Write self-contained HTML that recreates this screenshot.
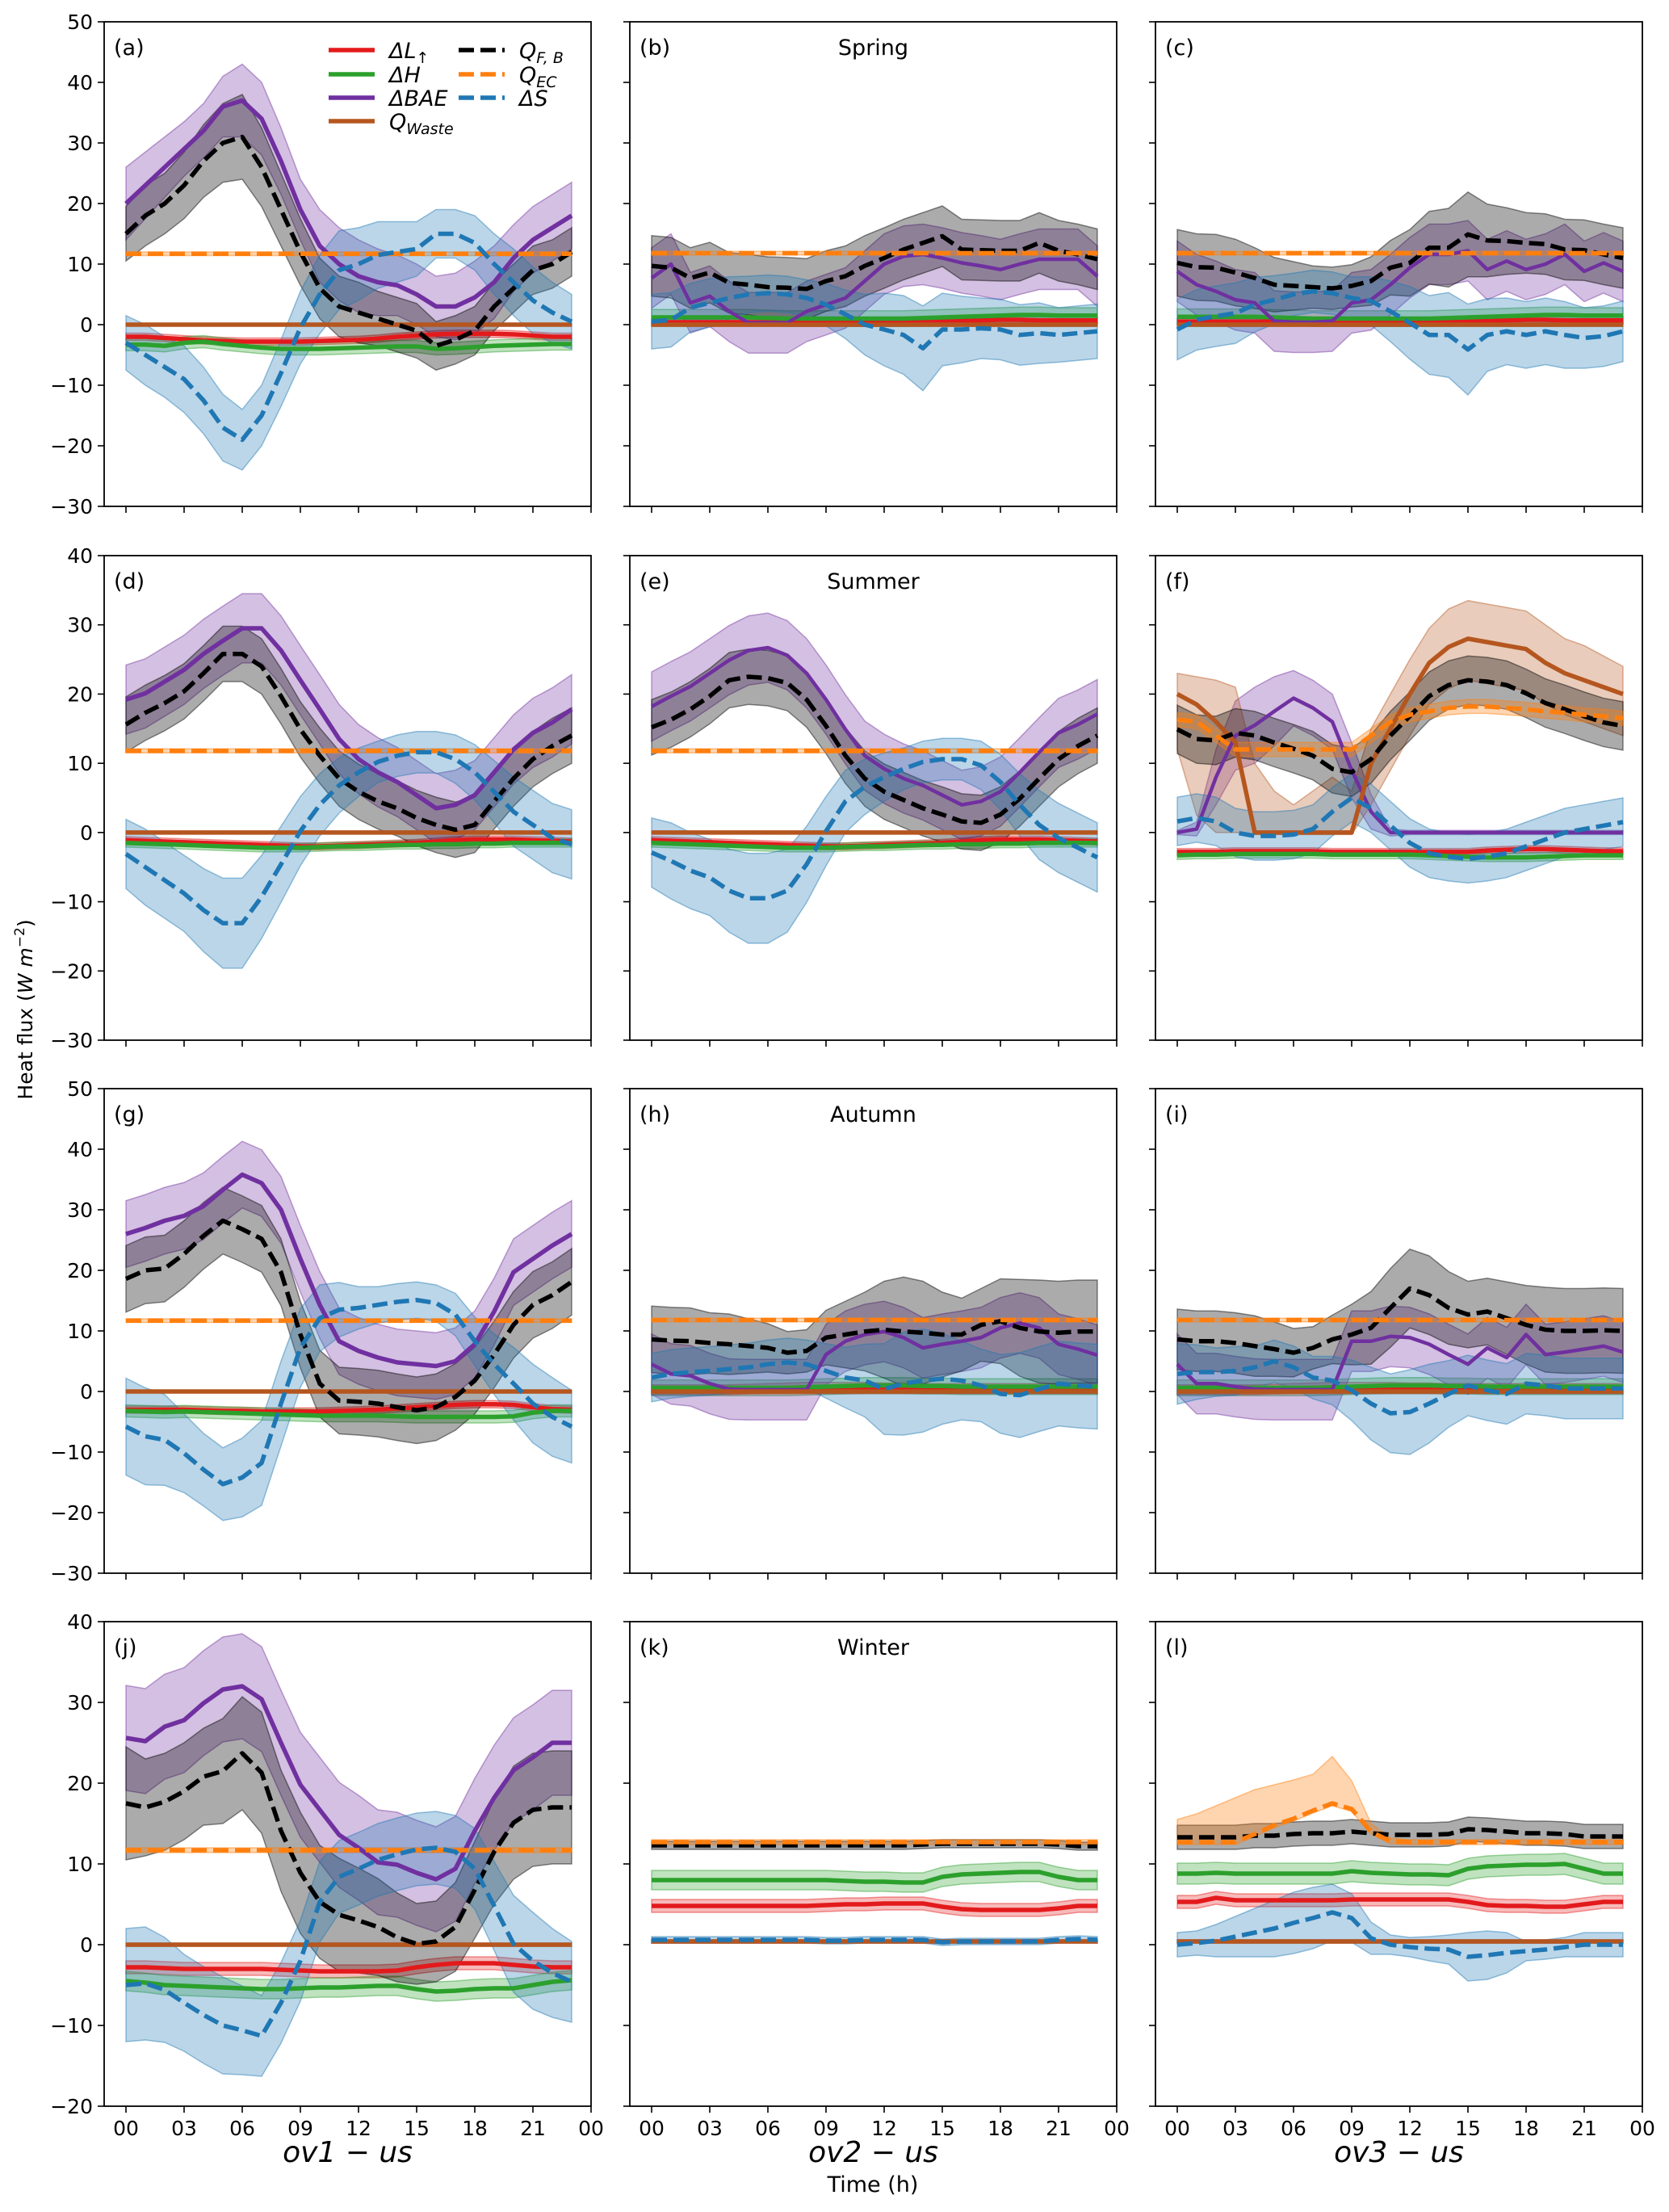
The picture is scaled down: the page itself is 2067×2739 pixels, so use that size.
<!DOCTYPE html>
<html><head><meta charset="utf-8"><style>
html,body{margin:0;padding:0;background:#fff;}
svg{display:block;font-family:"DejaVu Sans","Liberation Sans",sans-serif;}
</style></head><body>
<svg id="fig" width="2067" height="2739" viewBox="0 0 2067 2739" xmlns="http://www.w3.org/2000/svg"></svg>
<script>
const hours=[0,1,2,3,4,5,6,7,8,9,10,11,12,13,14,15,16,17,18,19,20,21,22,23];
const xTickLabels=["00","03","06","09","12","15","18","21","00"];
const xTickHours=[0,3,6,9,12,15,18,21,24];
const panelLabels=["(a)","(b)","(c)","(d)","(e)","(f)","(g)","(h)","(i)","(j)","(k)","(l)"];
const seasonTitles=["Spring","Summer","Autumn","Winter"];
const siteLabels=["ov1 − us","ov2 − us","ov3 − us"];
const rowYMin=[-30,-30,-30,-20];
const rowYMax=[50,40,50,40];

// (a)
const a_dL=[-2,-2,-2.2,-2.4,-2.6,-2.7,-2.8,-2.8,-2.8,-2.8,-2.7,-2.6,-2.5,-2.3,-2,-1.8,-1.6,-1.5,-1.5,-1.5,-1.6,-1.8,-2,-2];
const a_dH=[-3.3,-3.3,-3.5,-3,-2.8,-3.2,-3.5,-3.8,-4,-4,-4,-3.9,-3.8,-3.7,-3.6,-3.6,-4,-3.9,-3.7,-3.5,-3.4,-3.3,-3.2,-3.2];
const a_bae=[20,23,26,29,32,36,37,34,27,19,13,10,8,7,6.5,5,3,3,4.5,7,11,14,16,18];
const a_bae_sp=[6,5.5,5,4.5,4.5,5,6,6,5.5,5,6,6,6,5.5,5,5,5,5.5,6,6,5.5,5.5,5.5,5.5];
const a_qw=[0,0,0,0,0,0,0,0,0,0,0,0,0,0,0,0,0,0,0,0,0,0,0,0];
const a_qfb=[15,18,20,23,27,30,31,26,19,12,6,3,2,1,0,-1,-3.5,-2.5,-1,3,6,9,10,12];
const a_qfb_sp=[4.5,5,5,5.5,6,6.5,7,6.5,6,5.5,5,5,5,4.5,4.5,4.5,4,4,4,4,4,4,4,4];
const a_qec=[11.7,11.7,11.7,11.7,11.7,11.7,11.7,11.7,11.7,11.7,11.7,11.7,11.7,11.7,11.7,11.7,11.7,11.7,11.7,11.7,11.7,11.7,11.7,11.7];
const a_ds=[-3,-5,-7,-9,-12.5,-17,-19,-15,-8,-0.5,5,9,10,11.5,12,12.5,15,15,13.5,10,7,4,2,0.5];
const a_ds_sp=[4.5,5,5,5.5,5.5,5.5,5,5,5.5,6,6.5,6.5,6,5.5,5,4.5,4,4,4.5,5,5.5,5.5,5,4.5];
// (b)
const b_dL=[0.4,0.4,0.4,0.4,0.4,0.4,0.4,0.4,0.4,0.4,0.4,0.4,0.4,0.4,0.5,0.5,0.6,0.7,0.8,0.8,0.7,0.7,0.7,0.7];
const b_dH=[1.2,1.2,1.2,1.2,1.2,1.2,1.1,1.0,1.0,1.0,1.0,1.0,1.0,1.0,1.1,1.2,1.3,1.4,1.5,1.6,1.6,1.5,1.5,1.5];
const b_bae=[7.7,10,3.6,4.7,2.2,0.3,0.3,0.3,2.2,3.3,4.4,7.2,10,11.3,11.6,11,10.2,9.7,9.1,10,10.8,10.8,10.8,8];
const b_qfb=[9.7,9.4,7.7,8.6,6.9,6.6,6.2,6.1,5.9,7.2,8,9.7,11,12.4,13.5,14.6,12.4,12.3,12.2,12.2,13.5,12.2,11.6,10.8];
const b_qec=[11.8,11.8,11.8,11.8,11.8,11.8,11.8,11.8,11.8,11.8,11.8,11.8,11.8,11.8,11.8,11.8,11.8,11.8,11.8,11.8,11.8,11.8,11.8,11.8];
const b_ds=[0.5,0.8,2.8,3.6,4.4,5,5.2,5,4.4,3.3,1.7,0,-0.8,-1.7,-3.9,-0.8,-0.8,-0.6,-0.8,-1.7,-1.4,-1.7,-1.4,-1.1];
const b_ds_sp=[4.5,4.5,4,4,3.5,3,3,3,3,3.5,4,5,6,6.5,7,6,5.5,5,5,5,5,4.5,4.5,4.5];
// (c)
const c_dL=[0.5,0.5,0.5,0.5,0.5,0.5,0.5,0.5,0.5,0.5,0.5,0.5,0.5,0.5,0.5,0.6,0.6,0.7,0.8,0.8,0.7,0.7,0.7,0.7];
const c_dH=[1.3,1.3,1.3,1.3,1.3,1.2,1.1,1.0,1.0,1.0,1.0,1.0,1.0,1.0,1.1,1.2,1.3,1.4,1.5,1.6,1.6,1.5,1.5,1.5];
const c_bae=[8.8,6.6,5.5,4.1,3.6,0.6,0.4,0.4,0.6,3.6,4.1,6.6,9.4,11.6,11.6,12.2,9.1,10.5,9.1,10,11.6,8.8,10.2,8.8];
const c_qfb=[10.2,9.5,9.4,8.6,7.7,6.6,6.4,6.2,6,6.4,7.2,9.4,10.2,12.7,12.7,14.9,13.9,13.8,13.5,13.3,12.4,12.3,11.6,11];
const c_qfb_sp=[5.5,5.5,5.5,5.5,5,4.5,4,3.5,3.5,3.5,4,4.5,5.5,6,6.5,7,6,5.5,5,5,5,5,5,5];
const c_ds=[-0.8,0.8,1.4,1.9,3.3,4.1,5,5.5,5.2,4.4,3.9,2.2,0.3,-1.7,-1.7,-4.1,-1.7,-1.1,-1.7,-1.1,-1.7,-2.2,-1.9,-1.1];
const c_ds_sp=[5,5,5,5,4.5,4,3.5,3.5,3.5,3.5,4,5,6,6.5,7,7.5,6,5.5,5.5,5.5,5.5,5,5,5];
// (d)
const d_dL=[-1.1,-1.2,-1.3,-1.4,-1.5,-1.6,-1.7,-1.8,-1.9,-2,-2,-1.9,-1.8,-1.7,-1.6,-1.5,-1.3,-1.1,-1,-1,-1,-1.1,-1.2,-1.3];
const d_dH=[-1.5,-1.6,-1.7,-1.8,-1.9,-2,-2.1,-2.2,-2.2,-2.2,-2.1,-2,-2,-1.9,-1.8,-1.8,-1.7,-1.7,-1.6,-1.6,-1.5,-1.5,-1.5,-1.5];
const d_bae=[19.2,20.1,21.8,23.5,25.8,27.7,29.5,29.5,26.3,22,17.8,13.5,10.6,8.7,7.3,5.4,3.5,4,5.4,8.7,12,14.4,15.9,17.8];
const d_qfb=[15.6,17.3,18.7,20.4,23,25.8,25.8,24,19.7,14.9,11.1,7.8,5.9,4.5,3.5,2.1,1.1,0.4,1.1,4.5,7.8,10.6,12.5,14];
const d_ds=[-3.1,-5,-6.9,-8.8,-11.2,-13.1,-13.1,-9.3,-4.6,0.2,4,6.8,8.7,10.2,11.1,11.6,11.6,10.6,8.7,5.9,3,1.1,-0.8,-1.7];
const d_ds_sp=[5,5.5,5.5,5.5,6,6.5,6.5,6,5.5,5,4.5,4,3.5,3,3,3,3,3.5,4,4.5,5,5,5,5];
// (e)
const e_bae=[18.2,19.7,21.1,23,24.9,26.3,26.7,25.6,23,19.2,14.9,11.1,9.2,7.8,6.8,5.4,4,4.5,5.9,8.7,11.6,14.4,15.6,17.1];
const e_qfb=[15.2,16.3,17.8,19.7,22,22.5,22.3,21.6,19.2,15.4,11.1,7.8,5.9,4.7,3.5,2.6,1.6,1.4,2.6,4.9,7.8,10.6,12.5,14];
const e_ds=[-2.9,-4.1,-5.5,-6.5,-8.4,-9.5,-9.5,-8.4,-4.6,0.2,4.5,6.6,8,9.2,10.2,10.6,10.6,9.7,7.3,4,1.1,-0.8,-2.2,-3.6];
// (f)
const f_dL=[-2.8,-2.8,-2.8,-2.7,-2.7,-2.7,-2.7,-2.7,-2.8,-2.8,-2.8,-2.8,-2.8,-2.8,-2.8,-2.8,-2.6,-2.5,-2.4,-2.4,-2.5,-2.6,-2.7,-2.7];
const f_dH=[-3.3,-3.2,-3.2,-3.1,-3.1,-3.1,-3.1,-3.1,-3.2,-3.2,-3.2,-3.2,-3.2,-3.3,-3.4,-3.5,-3.6,-3.6,-3.6,-3.5,-3.4,-3.3,-3.3,-3.3];
const f_bae=[0,0.5,8,14,15.5,17.5,19.4,18,16,9,3,0,0,0,0,0,0,0,0,0,0,0,0,0];
const f_bae_sp=[0.3,1,4,5,5.5,5,4,4,4,4,2.5,0.5,0.3,0.3,0.3,0.3,0.3,0.3,0.3,0.3,0.3,0.3,0.3,0.3];
const f_qw=[20,18.5,16,13,0,0,0,0,0,0,10,15,20,24.5,26.8,28,27.5,27,26.5,24.5,23,22,21,20];
const f_qw_up=[3,4,6,8,10,6,4,6,8,6,5,5,5,5,5.5,5.5,5.5,5.5,5.5,5.5,5,5,4.5,4];
const f_qw_dn=[8,16,16,13,0.3,0.3,0.3,0.3,0.3,0.3,6,6,6,6,6,6,6,6,6,6,6,6,6,6];
const f_qfb=[14.9,13.5,13.3,14.4,14,13,12.1,11.1,9.2,8.7,10.6,14,16.8,19.7,21.3,22,21.8,21.3,20.1,18.7,17.8,16.8,15.9,15.4];
const f_qec=[16.3,16,14,12,12,12,12,12,12,12,14,16,17,17.5,18,18.2,18.2,18,17.8,17.5,17.3,17,16.8,16.5];
const f_ds=[1.6,2.1,1.6,0,-0.5,-0.5,-0.3,0.5,3,5,3.5,1,-1.5,-3,-3.5,-3.8,-3.5,-3,-2,-1,0,0.5,1,1.5];
// (g)
const g_dL=[-3,-3,-3,-3,-3.1,-3.2,-3.2,-3.3,-3.3,-3.3,-3.3,-3.2,-3.1,-3,-2.8,-2.6,-2.4,-2.2,-2.1,-2.1,-2.2,-2.6,-2.9,-3];
const g_dH=[-3.2,-3.3,-3.4,-3.3,-3.4,-3.5,-3.6,-3.7,-3.8,-3.9,-4,-4,-4,-4,-4.1,-4.2,-4.2,-4.2,-4.2,-4.2,-4.1,-3.5,-3.2,-3.2];
const g_bae=[26,27,28.2,29,30.6,33.3,35.8,34.4,30,21.9,14.3,8.3,6.7,5.6,4.8,4.5,4.2,5,7.8,13.2,19.7,21.9,24.1,26];
const g_qfb=[18.6,20,20.3,22.7,25.7,28.2,26.8,25.2,19.7,9.4,1.3,-1.5,-1.7,-2,-2.6,-3.1,-2.6,-0.9,1.8,6.1,11,14.3,15.9,18.1];
const g_ds=[-5.8,-7.4,-8,-10.2,-12.9,-15.3,-14.2,-11.8,-2,7.2,12.1,13.5,13.8,14.3,14.8,15.1,14.6,12.7,8.3,4.5,1.3,-2,-4.2,-5.8];
const g_ds_sp=[8,8,7.5,6.5,6,6,6.5,7,7,6.5,5.5,4.5,3.5,3,3,3,3,3.5,4,5,6,6.5,6.5,6];
// (h)
const h_dL=[0.3,0.3,0.3,0.3,0.3,0.4,0.5,0.6,0.7,0.7,0.7,0.7,0.6,0.6,0.5,0.5,0.5,0.5,0.5,0.5,0.5,0.5,0.5,0.5];
const h_dH=[0.6,0.6,0.6,0.6,0.6,0.6,0.6,0.6,0.7,0.8,0.9,1,1,1,0.9,0.9,0.8,0.8,0.8,0.8,0.8,0.8,0.8,0.8];
const h_bae=[4.5,2.9,2.6,1.3,0.4,0.3,0.3,0.3,0.3,6.1,8.3,9.4,9.9,8.9,7.2,7.8,8.3,8.9,10.5,11.3,10.5,7.8,7,6];
const h_qfb=[8.6,8.4,8.3,8,7.8,7.5,7.2,6.4,6.7,8.9,9.4,9.9,10.2,9.9,9.7,9.4,9.4,11,11.6,10.5,9.9,9.7,9.9,9.9];
const h_qfb_sp=[5.5,5.5,5.5,5,5,4.5,4,3.5,3.5,4.5,5.5,6.5,8,9,8.5,7,6,6,7,8,8.5,8.5,8.5,8.5];
const h_ds=[2.3,2.9,3.2,3.4,3.7,4,4.5,4.8,4.5,3.4,2.3,1.8,0.4,1.3,1.8,2.1,1.8,1,-0.4,-0.6,0.4,1.3,1,0.8];
const h_ds_sp=[4,4,4,4,4,4,4,4,4,4.5,5,6,7.5,8.5,8.5,7.5,6.5,6,6.5,7,7,7,7,7];
// (i)
const i_bae=[4.5,1.3,1.3,0.8,0.4,0.3,0.3,0.3,0.3,8.3,8.3,9.1,8.9,7.8,6.1,4.5,7.2,5.6,9.4,6.1,6.5,7,7.5,6.5];
const i_qfb=[8.6,8.3,8.3,8,7.5,7,6.4,7.2,8.6,9.4,10.5,13.8,17,15.9,13.8,12.7,13.2,12.1,11,10.2,10,10,10.1,10];
const i_qfb_sp=[5,5,5,5,5,4.5,4,3.5,4,5,6,6.5,6.5,6.5,6,5.5,5.5,6,6.5,7,7,7,7,7];
const i_ds=[2.9,3.2,3.2,3.4,4,5,4,2.3,1.8,0.2,-2,-3.6,-3.4,-2,-0.4,1,0.2,-0.4,1.3,1,0.5,0.5,0.5,0.5];
const i_ds_sp=[5,4.5,4,4,3.5,3.5,3.5,3.5,4,5,6,6.5,7,6.5,5.5,5,5,5,5,5,5,5,5,5];
// (j)
const j_dL=[-2.8,-2.8,-2.9,-3,-3,-3,-3,-3,-3.1,-3.2,-3.3,-3.3,-3.3,-3.3,-3.2,-2.8,-2.5,-2.3,-2.3,-2.3,-2.5,-2.7,-2.8,-2.8];
const j_dH=[-4.5,-4.7,-5,-5.1,-5.2,-5.3,-5.4,-5.5,-5.5,-5.4,-5.3,-5.3,-5.2,-5.1,-5.1,-5.5,-5.8,-5.7,-5.5,-5.4,-5.4,-5,-4.6,-4.4];
const j_bae=[25.6,25.2,27,27.8,29.9,31.6,32,30.4,25,19.8,16.7,13.6,12,10.2,9.9,8.9,8.1,9.4,14.1,18.2,21.6,23.2,25,25];
const j_qfb=[17.5,17,17.7,19,20.8,21.5,23.7,21.3,14.1,8.9,5.3,3.7,3,2.2,0.9,0.1,0.4,2.2,6.8,11.5,15.1,16.7,17,17];
const j_qfb_sp=[7,6,6,6,6,6.5,7,7.5,7.5,7.5,7,7,6.5,6,5.5,5,5,5.5,6,6.5,7,7,7,7];
const j_ds=[-5,-4.8,-5.6,-7.2,-8.7,-10,-10.6,-11.3,-7.2,-2,5.3,8.4,9.4,10.5,11.2,11.8,12,11.5,9.4,4.8,0.1,-2,-3.5,-4.6];
const j_ds_sp=[7,7,6.5,6,6,6,5.5,5,5,5,5,4.5,4.5,4.5,4.5,4.5,4.5,4.5,5,5.5,6,6,5.5,5];
// (k)
const k_dL=[4.8,4.8,4.8,4.8,4.8,4.8,4.8,4.8,4.8,4.9,5,5,5.1,5.1,5.1,4.7,4.4,4.3,4.3,4.3,4.3,4.5,4.8,4.8];
const k_dH=[8,8,8,8,8,8,8,8,8,8,7.9,7.8,7.8,7.7,7.7,8.4,8.7,8.8,8.9,9,9,8.4,8,8];
const k_qw=[0.4,0.4,0.4,0.4,0.4,0.4,0.4,0.4,0.4,0.4,0.4,0.4,0.4,0.4,0.4,0.4,0.4,0.4,0.4,0.4,0.4,0.4,0.4,0.4];
const k_qfb=[12.3,12.3,12.3,12.3,12.3,12.3,12.3,12.3,12.3,12.3,12.3,12.3,12.3,12.3,12.4,12.5,12.5,12.5,12.5,12.5,12.5,12.4,12.2,12.2];
const k_qec=[12.7,12.7,12.7,12.7,12.7,12.7,12.7,12.7,12.7,12.7,12.7,12.7,12.7,12.7,12.7,12.7,12.7,12.7,12.7,12.7,12.7,12.7,12.7,12.7];
const k_ds=[0.6,0.6,0.6,0.6,0.6,0.6,0.6,0.6,0.6,0.5,0.5,0.6,0.6,0.6,0.6,0.3,0.4,0.4,0.4,0.4,0.4,0.6,0.7,0.6];
// (l)
const l_dL=[5.3,5.3,5.8,5.5,5.5,5.5,5.5,5.5,5.5,5.6,5.6,5.6,5.6,5.6,5.6,5.3,4.9,4.8,4.8,4.7,4.7,5,5.3,5.3];
const l_dH=[8.8,8.8,8.9,8.8,8.8,8.8,8.8,8.8,8.8,9.1,8.9,8.8,8.7,8.7,8.6,9.4,9.7,9.8,9.9,9.9,10,9.4,8.8,8.8];
const l_qw=[0.4,0.4,0.4,0.4,0.4,0.4,0.4,0.4,0.4,0.4,0.4,0.4,0.4,0.4,0.4,0.4,0.4,0.4,0.4,0.4,0.4,0.4,0.4,0.4];
const l_qfb=[13.3,13.3,13.3,13.3,13.5,13.5,13.7,13.8,13.8,14,13.8,13.6,13.6,13.6,13.7,14.3,14.2,14,13.8,13.8,13.7,13.4,13.4,13.4];
const l_qec=[12.7,12.7,12.7,12.7,13.7,14.8,15.6,16.6,17.5,16.8,14,12.8,12.7,12.7,12.7,12.7,12.7,12.7,12.7,12.7,12.7,12.7,12.7,12.7];
const l_qec_up=[2.8,3.5,4.5,5.5,5.5,5,4.8,4.5,5.8,3.5,1,0.4,0.3,0.3,0.3,0.3,0.3,0.3,0.3,0.3,0.3,0.3,0.3,0.3];
const l_ds=[0,0.2,0.5,1,1.5,2,2.7,3.3,4,3.3,0.8,0,-0.3,-0.5,-0.6,-1.5,-1.3,-1,-0.8,-0.6,-0.3,0,0,0];
const l_ds_sp=[1.5,1.5,2,2.5,3,3.5,3.8,3.8,3.5,3,2,1.2,1.2,1.5,1.8,3,3,2.5,1.2,1.2,1.2,1.5,1.5,1.5];

const panels=[
 {dL:[a_dL,0.6],dH:[a_dH,1],bae:[a_bae,a_bae_sp],qw:[a_qw,0.2],qfb:[a_qfb,a_qfb_sp],qec:[a_qec,0.3],ds:[a_ds,a_ds_sp]},
 {dL:[b_dL,0.6],dH:[b_dH,1.3],bae:[b_bae,5],qw:[a_qw,0.3],qfb:[b_qfb,5],qec:[b_qec,0.3],ds:[b_ds,b_ds_sp]},
 {dL:[c_dL,0.6],dH:[c_dH,1.3],bae:[c_bae,5],qw:[a_qw,0.3],qfb:[c_qfb,c_qfb_sp],qec:[b_qec,0.3],ds:[c_ds,c_ds_sp]},
 {dL:[d_dL,0.5],dH:[d_dH,0.6],bae:[d_bae,5],qw:[a_qw,0.2],qfb:[d_qfb,4],qec:[b_qec,0.3],ds:[d_ds,d_ds_sp]},
 {dL:[d_dL,0.5],dH:[d_dH,0.6],bae:[e_bae,5],qw:[a_qw,0.2],qfb:[e_qfb,4],qec:[b_qec,0.3],ds:[e_ds,d_ds_sp]},
 {dL:[f_dL,0.5],dH:[f_dH,0.6],bae:[f_bae,f_bae_sp],qw:[f_qw,f_qw_up,f_qw_dn],qfb:[f_qfb,3.5],qec:[f_qec,1],ds:[f_ds,3.5]},
 {dL:[g_dL,0.6],dH:[g_dH,1],bae:[g_bae,5.5],qw:[a_qw,0.2],qfb:[g_qfb,5.5],qec:[a_qec,0.3],ds:[g_ds,g_ds_sp]},
 {dL:[h_dL,0.8],dH:[h_dH,1.3],bae:[h_bae,5],qw:[a_qw,0.4],qfb:[h_qfb,h_qfb_sp],qec:[b_qec,0.3],ds:[h_ds,h_ds_sp]},
 {dL:[h_dL,0.8],dH:[h_dH,1.3],bae:[i_bae,5],qw:[a_qw,0.4],qfb:[i_qfb,i_qfb_sp],qec:[b_qec,0.3],ds:[i_ds,i_ds_sp]},
 {dL:[j_dL,0.8],dH:[j_dH,1.2],bae:[j_bae,6.5],qw:[a_qw,0.2],qfb:[j_qfb,j_qfb_sp],qec:[a_qec,0.3],ds:[j_ds,j_ds_sp]},
 {dL:[k_dL,0.8],dH:[k_dH,1.2],bae:[k_qw,0.2],qw:[k_qw,0.2],qfb:[k_qfb,0.5],qec:[k_qec,0.3],ds:[k_ds,0.4]},
 {dL:[l_dL,0.8],dH:[l_dH,1.3],bae:[l_qw,0.2],qw:[l_qw,0.2],qfb:[l_qfb,1.5],qec:[l_qec,l_qec_up,0.3],ds:[l_ds,l_ds_sp]}
];
const order=["dL","dH","bae","qw","qfb","qec","ds"];
const colors={dL:"#e31a1c",dH:"#2ca02c",bae:"#7030a0",qw:"#b5561f",qfb:"#000000",qec:"#ff7f0e",ds:"#1f77b4"};
const fillOp={dL:0.3,dH:0.3,bae:0.3,qw:0.3,qfb:0.33,qec:0.33,ds:0.3};
const dashed={qfb:true,qec:true,ds:true};
const names={dL:"delta-l-up",dH:"delta-h",bae:"delta-bae",qw:"q-waste",qfb:"q-fb",qec:"q-ec",ds:"delta-s"};

const NS="http://www.w3.org/2000/svg";
const svg=document.getElementById("fig");
function mk(tag,attrs,parent){const e=document.createElementNS(NS,tag);for(const k in attrs)e.setAttribute(k,attrs[k]);(parent||svg).appendChild(e);return e;}
const colLeft=[129,780,1431], rowTop=[27,688,1348,2008], PW=603, PH=600;
const XMIN=-1.125, XMAX=24;
function val(s,i){return Array.isArray(s)?s[i]:s;}

panels.forEach((p,idx)=>{
  const r=Math.floor(idx/3), c=idx%3;
  const L=colLeft[c], T=rowTop[r], ymin=rowYMin[r], ymax=rowYMax[r];
  const xs=h=>L+(h-XMIN)/(XMAX-XMIN)*PW;
  const ys=v=>T+PH-(v-ymin)/(ymax-ymin)*PH;
  const g=mk("g",{});
  
  
  const clipId="clip"+idx;
  const cp=mk("clipPath",{id:clipId},g); mk("rect",{x:L,y:T,width:PW,height:PH},cp);
  const plot=mk("g",{"clip-path":"url(#"+clipId+")"},g);
  order.forEach(k=>{
    const s=p[k], m=s[0], up=s[1], dn=s.length>2?s[2]:s[1];
    let pts=hours.map(i=>xs(i)+","+ys(m[i]+val(up,i)));
    for(let i=23;i>=0;i--)pts.push(xs(i)+","+ys(m[i]-val(dn,i)));
    const poly=mk("polygon",{points:pts.join(" "),fill:colors[k],"fill-opacity":fillOp[k],stroke:colors[k],"stroke-opacity":0.45,"stroke-width":1.5},plot);
    
    
  });
  order.forEach(k=>{
    const m=p[k][0];
    const attrs={points:hours.map(i=>xs(i)+","+ys(m[i])).join(" "),fill:"none",stroke:colors[k],"stroke-width":k==="bae"&&idx%3!==0?4.5:5.5,"stroke-linejoin":"round"};
    if(dashed[k]){attrs["stroke-dasharray"]="19 8";}
    const ln=mk("polyline",attrs,plot);
    
    
  });
  const fr=mk("rect",{x:L,y:T,width:PW,height:PH,fill:"none",stroke:"#000","stroke-width":1.8},g);
  
  
  for(let v=ymin;v<=ymax;v+=10){
    const y=ys(v);
    mk("line",{x1:L-8,x2:L,y1:y,y2:y,stroke:"#000","stroke-width":1.6},g);
    if(c===0){
      const t=mk("text",{x:L-14,y:y+9,"text-anchor":"end","font-size":25},g);
      t.textContent=(v<0?"−":"")+Math.abs(v);
      
      
    }
  }
  xTickHours.forEach((h,j)=>{
    const x=xs(h);
    mk("line",{x1:x,x2:x,y1:T+PH,y2:T+PH+8,stroke:"#000","stroke-width":1.6},g);
    if(r===3){
      const t=mk("text",{x:x,y:T+PH+36,"text-anchor":"middle","font-size":25},g);
      t.textContent=xTickLabels[j];
      
      
    }
  });
  const pl=mk("text",{x:L+12,y:T+41,"font-size":27},g);
  pl.textContent=panelLabels[idx];
  
  
  if(c===1){
    const st=mk("text",{x:L+PW/2,y:T+41,"text-anchor":"middle","font-size":27},g);
    st.textContent=seasonTitles[r];
    
    
  }
  if(r===3){
    const sl=mk("text",{x:L+PW/2,y:2677,"text-anchor":"middle","font-size":36,"font-style":"italic"},g);
    sl.textContent=siteLabels[c];
    
    
  }
});
const lg=mk("g",{});


const legItems=[["dL",407,62,"ΔL","↑"],["dH",407,92,"ΔH",""],["bae",407,121,"ΔBAE",""],["qw",407,150,"Q","Waste"],["qfb",568,62,"Q","F, B"],["qec",568,92,"Q","EC"],["ds",568,121,"ΔS",""]];
legItems.forEach(it=>{
  const a={x1:it[1],x2:it[1]+57,y1:it[2],y2:it[2],stroke:colors[it[0]],"stroke-width":5.5};
  if(dashed[it[0]])a["stroke-dasharray"]="19 8";
  const l=mk("line",a,lg);
  
  
  const t=mk("text",{x:it[1]+75,y:it[2]+10,"font-size":27,"font-style":"italic"},lg);
  
  
  const t1=mk("tspan",{},t); t1.textContent=it[3];
  if(it[4]){const t2=mk("tspan",{"font-size":19,dy:6},t); t2.textContent=it[4];}
});
const yl=mk("text",{x:0,y:0,transform:"translate(40,1250) rotate(-90)","text-anchor":"middle","font-size":25});


const y1=mk("tspan",{},yl); y1.textContent="Heat flux (";
const y2=mk("tspan",{"font-style":"italic"},yl); y2.textContent="W m";
const y3=mk("tspan",{"font-size":17,dy:-10},yl); y3.textContent="−2";
const y4=mk("tspan",{dy:10},yl); y4.textContent=")";
const xl=mk("text",{x:1081,y:2714,"text-anchor":"middle","font-size":27});
xl.textContent="Time (h)";


</script>
</body></html>
